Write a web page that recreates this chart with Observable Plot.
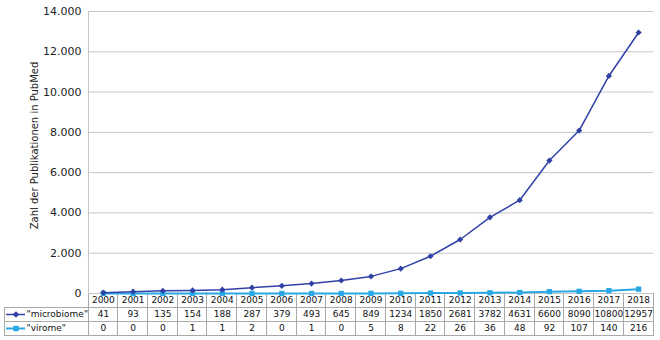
<!DOCTYPE html>
<html><head><meta charset="utf-8">
<script src="https://cdn.jsdelivr.net/npm/d3@7"></script>
<script src="https://cdn.jsdelivr.net/npm/@observablehq/plot@0.6"></script>
<style>
html,body{margin:0;padding:0;background:#fff;}
#wrap{position:relative;width:660px;height:340px;}
#wrap svg{position:absolute;left:0;overflow:visible;}
</style></head><body><div id="wrap"></div>
<script>
const years = ["2000","2001","2002","2003","2004","2005","2006","2007","2008","2009","2010","2011","2012","2013","2014","2015","2016","2017","2018"];
const microbiome = [41,93,135,154,188,287,379,493,645,849,1234,1850,2681,3782,4631,6600,8090,10800,12957];
const virome = [0,0,0,1,1,2,0,1,0,5,8,22,26,36,48,92,107,140,216];
const seriesNames = ['"microbiome"', '"virome"'];
const seriesKeys = ["microbiome", "virome"];
const yTicks = [0,2000,4000,6000,8000,10000,12000,14000];
const yLabel = "Zahl der Publikationen in PubMed";

const colors = {microbiome: "#3241a6", virome: "#2aa8e6"};
const symbols = {microbiome: "diamond2", virome: "square"};
const sizes = {microbiome: 2.8, virome: 3};
const widths = {microbiome: 1.5, virome: 2};
const gridColor = "#c6c6c6";
const tableColor = "#a9a9a9";
const font = "'DejaVu Sans', Verdana, sans-serif";

const W = 660, mL = 88, mR = 7;
const colPx = (W - mL - mR) / years.length;
const u = px => (px - mL) / colPx;  // pixel -> x units (for table decoration)
const labelLeft = u(4);

const rows = years.map((y, i) => ({i, year: y, microbiome: microbiome[i], virome: virome[i]}));
const fmt = d3.formatLocale({decimal: ",", thousands: ".", grouping: [3], currency: ["", "€"]}).format(",");

const chart = Plot.plot({
  width: W, height: 340, marginLeft: mL, marginRight: mR, marginTop: 11, marginBottom: 47,
  style: {fontFamily: font, fontSize: "10px", color: "#222", background: "transparent", overflow: "visible"},
  x: {domain: [0, years.length], axis: null},
  y: {domain: [0, 14000], axis: null},
  marks: [
    Plot.gridY(yTicks, {stroke: gridColor, strokeOpacity: 1}),
    Plot.ruleX([0], {stroke: gridColor}),
    Plot.text(yTicks, {y: d => d, text: d => fmt(d), frameAnchor: "left", dx: -7, textAnchor: "end", fontSize: 11, fill: "#222"}),
    Plot.text([yLabel], {frameAnchor: "left", rotate: -90, dx: -54, dy: -7, textAnchor: "middle", lineAnchor: "middle", fontSize: 10, fill: "#222"}),
    Plot.line(rows, {x: d => d.i + 0.5, y: "virome", stroke: colors.virome, strokeWidth: widths.virome}),
    Plot.dot(rows, {x: d => d.i + 0.5, y: "virome", symbol: symbols.virome, r: sizes.virome, fill: colors.virome, stroke: "none"}),
    Plot.line(rows, {x: d => d.i + 0.5, y: "microbiome", stroke: colors.microbiome, strokeWidth: widths.microbiome}),
    Plot.dot(rows, {x: d => d.i + 0.5, y: "microbiome", symbol: symbols.microbiome, r: sizes.microbiome, fill: colors.microbiome, stroke: "none"})
  ]
});

const tableRows = ["year", ...seriesKeys];
const cells = [];
tableRows.forEach(r => years.forEach((y, i) => cells.push({r, i, text: r === "year" ? y : String(r === "microbiome" ? microbiome[i] : virome[i])})));
const labelRows = seriesKeys.map((k, j) => ({r: k, name: seriesNames[j]}));

const table = Plot.plot({
  width: W, height: 47, marginLeft: mL, marginRight: mR, marginTop: 0, marginBottom: 5,
  style: {fontFamily: font, fontSize: "9px", color: "#111", background: "transparent", overflow: "visible"},
  x: {domain: [0, years.length], axis: null},
  y: {domain: tableRows, axis: null, padding: 0, round: true},
  marks: [
    Plot.barX(cells, {x1: d => d.i, x2: d => d.i + 1, y: "r", fill: "white", stroke: tableColor, shapeRendering: "crispEdges"}),
    Plot.barX(labelRows, {x1: labelLeft, x2: 0, y: "r", fill: "white", stroke: tableColor, shapeRendering: "crispEdges"}),
    Plot.text(cells, {x: d => d.i + 0.5, y: "r", text: "text", fill: "#111"}),
    Plot.text(labelRows, {x: u(26), y: "r", text: "name", textAnchor: "start", fill: "#111"}),
    Plot.ruleY(labelRows, {y: "r", x1: u(6), x2: u(25), stroke: d => colors[d.r], strokeWidth: d => widths[d.r]}),
    Plot.dot(labelRows, {x: u(15.5), y: "r", symbol: d => symbols[d.r], r: d => sizes[d.r], fill: d => colors[d.r], stroke: "none"})
  ]
});

table.style.top = "293px";
chart.style.top = "0px";
const wrap = document.getElementById("wrap");
wrap.appendChild(table);
wrap.appendChild(chart);
</script>
</body></html>
